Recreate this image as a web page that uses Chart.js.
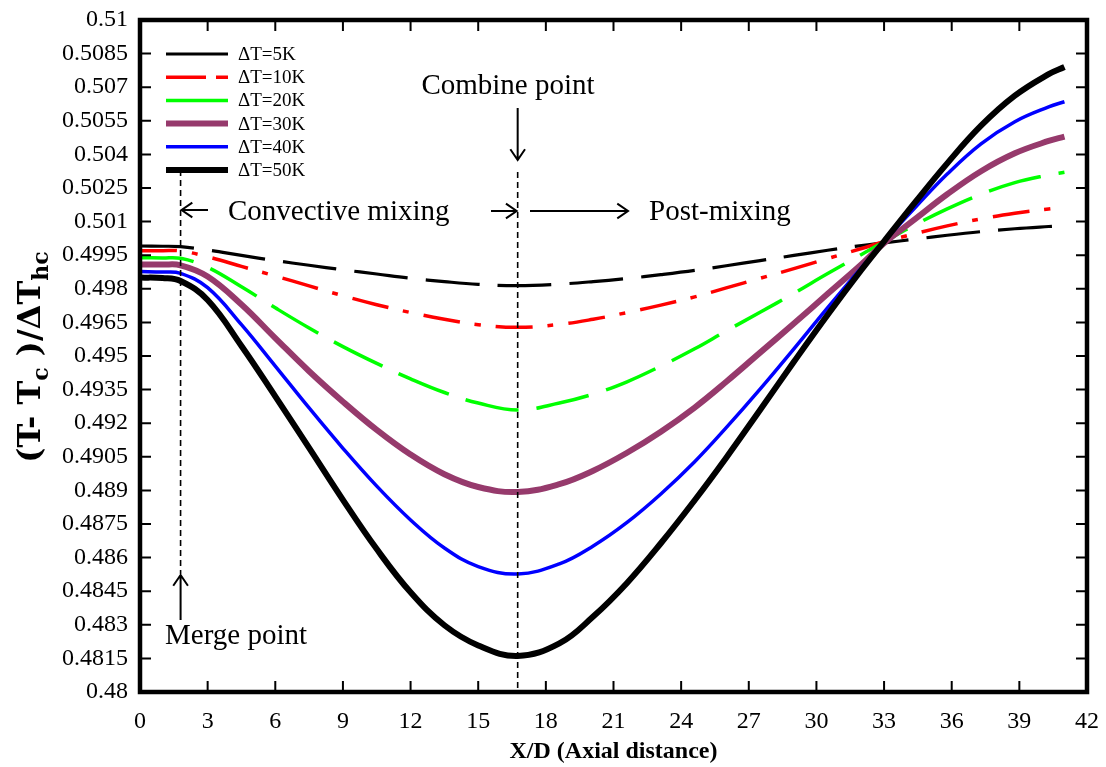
<!DOCTYPE html>
<html>
<head>
<meta charset="utf-8">
<script src="https://cdn.jsdelivr.net/npm/chart.js@4.4.1/dist/chart.umd.min.js"></script>
<style>
  html, body { margin: 0; padding: 0; background: #fff; }
  #wrap { width: 1106px; height: 767px; }
</style>
</head>
<body>
<div id="wrap"><canvas id="c" width="1106" height="767"></canvas></div>
<script>
// Axial positions (X/D) shared by every series
const xPos = [0, 1, 1.8, 3, 4.5, 6, 7.5, 9, 10.5, 12, 13.5, 15, 16.75,
  18.6, 20.1, 21.6, 23.1, 24.6, 26, 27.5, 29, 30.5, 32, 33,
  34.4, 35.8, 37.3, 38.8, 40.3, 41];

// Normalised temperature (T - Tc)/ΔThc for each inlet temperature difference
const dT5 = [0.49991, 0.49990, 0.49988, 0.49973, 0.49949, 0.49926, 0.49905, 0.49885, 0.49866, 0.49847, 0.49832, 0.49820, 0.49814,
  0.49821, 0.49832, 0.49846, 0.49863, 0.49882, 0.49903, 0.49926, 0.49949, 0.49972, 0.49993, 0.50005,
  0.50022, 0.50039, 0.50055, 0.50068, 0.50078, 0.50082];
const dT10 = [0.49970, 0.49970, 0.49969, 0.49943, 0.49900, 0.49857, 0.49813, 0.49769, 0.49729, 0.49694, 0.49664, 0.49640, 0.49628,
  0.49641, 0.49664, 0.49694, 0.49727, 0.49764, 0.49804, 0.49847, 0.49890, 0.49935, 0.49980, 0.50010,
  0.50047, 0.50081, 0.50112, 0.50137, 0.50156, 0.50164];
const dT20 = [0.49939, 0.49938, 0.49936, 0.49896, 0.49809, 0.49715, 0.49625, 0.49542, 0.49467, 0.49398, 0.49337, 0.49290, 0.49259,
  0.49290, 0.49330, 0.49385, 0.49455, 0.49532, 0.49612, 0.49695, 0.49780, 0.49868, 0.49953, 0.50010,
  0.50087, 0.50157, 0.50222, 0.50274, 0.50308, 0.50320];
const dT30 = [0.49909, 0.49908, 0.49905, 0.49855, 0.49730, 0.49580, 0.49432, 0.49296, 0.49170, 0.49060, 0.48972, 0.48915, 0.48893,
  0.48928, 0.48988, 0.49068, 0.49162, 0.49270, 0.49385, 0.49515, 0.49645, 0.49778, 0.49910, 0.50004,
  0.50113, 0.50222, 0.50325, 0.50405, 0.50460, 0.50479];
const dT40 = [0.49877, 0.49875, 0.49869, 0.49805, 0.49640, 0.49455, 0.49268, 0.49088, 0.48919, 0.48768, 0.48643, 0.48560, 0.48527,
  0.48572, 0.48652, 0.48757, 0.48884, 0.49028, 0.49180, 0.49352, 0.49532, 0.49716, 0.49895, 0.50012,
  0.50165, 0.50312, 0.50447, 0.50546, 0.50612, 0.50635];
const dT50 = [0.49850, 0.49848, 0.49835, 0.49750, 0.49545, 0.49320, 0.49090, 0.48858, 0.48638, 0.48445, 0.48298, 0.48208, 0.48161,
  0.48217, 0.48337, 0.48487, 0.48664, 0.48856, 0.49046, 0.49259, 0.49474, 0.49684, 0.49885, 0.50012,
  0.50189, 0.50360, 0.50528, 0.50662, 0.50758, 0.50790];

const seriesLabels = ['ΔT=5K', 'ΔT=10K', 'ΔT=20K', 'ΔT=30K', 'ΔT=40K', 'ΔT=50K'];

const xTicks = [0, 3, 6, 9, 12, 15, 18, 21, 24, 27, 30, 33, 36, 39, 42];
const yTicks = [0.48, 0.4815, 0.483, 0.4845, 0.486, 0.4875, 0.489, 0.4905, 0.492, 0.4935, 0.495,
  0.4965, 0.498, 0.4995, 0.501, 0.5025, 0.504, 0.5055, 0.507, 0.5085, 0.51];

// Marker positions along the pipe
const mergeX = 1.8;
const combineX = 16.75;

const allSeries = [dT5, dT10, dT20, dT30, dT40, dT50];
const styles = [
  { color: '#000000', width: 3.2, dash: [54, 18], legendDash: [] },
  { color: '#ff0000', width: 3.5, dash: [37, 15, 6, 15], legendDash: [40, 10] },
  { color: '#00ff00', width: 3.5, dash: [54, 18], legendDash: [] },
  { color: '#963a6c', width: 6, dash: [], legendDash: [] },
  { color: '#0000ff', width: 3.5, dash: [], legendDash: [] },
  { color: '#000000', width: 6, dash: [], legendDash: [] }
];

const datasets = allSeries.map((vals, i) => ({
  label: seriesLabels[i],
  data: vals.map((v, k) => ({ x: xPos[k], y: v })),
  borderColor: styles[i].color,
  backgroundColor: styles[i].color,
  borderWidth: styles[i].width,
  borderDash: styles[i].dash,
  borderCapStyle: 'butt',
  pointRadius: 0,
  fill: false,
  tension: 0.4,
  order: allSeries.length - i
}));

function arrow(ctx, x1, y1, x2, y2) {
  const ang = Math.atan2(y2 - y1, x2 - x1);
  const hl = 13, hw = 0.6;
  ctx.beginPath();
  ctx.moveTo(x1, y1); ctx.lineTo(x2, y2);
  ctx.moveTo(x2 - hl * Math.cos(ang - hw), y2 - hl * Math.sin(ang - hw));
  ctx.lineTo(x2, y2);
  ctx.lineTo(x2 - hl * Math.cos(ang + hw), y2 - hl * Math.sin(ang + hw));
  ctx.stroke();
}

const decor = {
  id: 'decor',
  afterDatasetsDraw(chart) {
    const { ctx, chartArea: a, scales: { x } } = chart;
    const mx = x.getPixelForValue(mergeX);
    const cx = x.getPixelForValue(combineX);
    ctx.save();
    ctx.strokeStyle = '#000';
    ctx.fillStyle = '#000';

    // dashed marker lines
    ctx.lineWidth = 1.6;
    ctx.setLineDash([6, 4]);
    ctx.beginPath();
    ctx.moveTo(mx, 170); ctx.lineTo(mx, 574);
    ctx.moveTo(cx, 172); ctx.lineTo(cx, a.bottom);
    ctx.stroke();
    ctx.setLineDash([]);

    // arrows
    ctx.lineWidth = 2;
    arrow(ctx, cx, 108, cx, 160);
    arrow(ctx, mx, 620, mx, 575);
    arrow(ctx, 208, 210, mx + 1, 210);
    arrow(ctx, 491, 211, cx - 1, 211);
    arrow(ctx, 530, 211, 628, 211);

    // annotation text
    ctx.font = '29px "Liberation Serif", serif';
    ctx.textBaseline = 'middle';
    ctx.textAlign = 'center';
    ctx.fillText('Combine point', 508, 86);
    ctx.textAlign = 'left';
    ctx.fillText('Convective mixing', 228, 212);
    ctx.fillText('Post-mixing', 649, 212);
    ctx.fillText('Merge point', 165, 636);

    // legend
    ctx.font = '19px "Liberation Serif", serif';
    chart.data.datasets.forEach((ds, i) => {
      const yy = 54 + i * 23.2;
      ctx.save();
      ctx.strokeStyle = ds.borderColor;
      ctx.lineWidth = ds.borderWidth;
      ctx.setLineDash(styles[i].legendDash);
      ctx.beginPath();
      ctx.moveTo(166, yy); ctx.lineTo(228, yy);
      ctx.stroke();
      ctx.restore();
      ctx.fillStyle = '#000';
      ctx.fillText(ds.label, 238, yy + 1);
    });
    ctx.restore();
  },
  afterDraw(chart) {
    const { ctx, chartArea: a, scales: { x, y } } = chart;
    ctx.save();
    ctx.strokeStyle = '#000';
    // inward tick marks on all four sides
    ctx.lineWidth = 2;
    ctx.beginPath();
    x.ticks.forEach(t => {
      const px = x.getPixelForValue(t.value);
      ctx.moveTo(px, a.bottom); ctx.lineTo(px, a.bottom - 11);
      ctx.moveTo(px, a.top); ctx.lineTo(px, a.top + 11);
    });
    y.ticks.forEach(t => {
      const py = y.getPixelForValue(t.value);
      ctx.moveTo(a.left, py); ctx.lineTo(a.left + 11, py);
      ctx.moveTo(a.right, py); ctx.lineTo(a.right - 11, py);
    });
    ctx.stroke();
    // frame
    ctx.lineWidth = 4.5;
    ctx.strokeRect(a.left, a.top, a.right - a.left, a.bottom - a.top);

    // axis titles
    ctx.fillStyle = '#000';
    ctx.textBaseline = 'alphabetic';
    ctx.textAlign = 'center';
    ctx.font = 'bold 24px "Liberation Serif", serif';
    ctx.fillText('X/D (Axial distance)', (a.left + a.right) / 2, 758);

    const parts = [
      { t: '(T- T', f: 'bold 32px "DejaVu Serif", serif', dy: 0 },
      { t: 'c', f: 'bold 22px "DejaVu Serif", serif', dy: 8 },
      { t: ' )/ΔT', f: 'bold 32px "DejaVu Serif", serif', dy: 0 },
      { t: 'hc', f: 'bold 22px "DejaVu Serif", serif', dy: 8 }
    ];
    let total = 0;
    parts.forEach(p => { ctx.font = p.f; p.w = ctx.measureText(p.t).width; total += p.w; });
    ctx.translate(40, 357);
    ctx.rotate(-Math.PI / 2);
    ctx.textAlign = 'left';
    let cur = -total / 2;
    parts.forEach(p => {
      ctx.font = p.f;
      ctx.fillText(p.t, cur, p.dy);
      cur += p.w;
    });
    ctx.restore();
  }
};

new Chart(document.getElementById('c'), {
  type: 'line',
  data: { datasets },
  options: {
    responsive: false,
    animation: false,
    devicePixelRatio: 1,
    layout: { padding: { top: 20, right: 19, left: 0, bottom: 0 } },
    plugins: { legend: { display: false }, tooltip: { enabled: false } },
    scales: {
      x: {
        type: 'linear', min: 0, max: 42,
        afterBuildTicks: s => { s.ticks = xTicks.map(v => ({ value: v })); },
        afterFit: s => { s.height = 75; },
        grid: { display: false },
        border: { display: false },
        ticks: {
          color: '#000', padding: 7, maxRotation: 0, autoSkip: false,
          font: { family: '"Liberation Serif", serif', size: 24 },
          callback: v => String(v)
        }
      },
      y: {
        type: 'linear', min: 0.48, max: 0.51,
        afterBuildTicks: s => { s.ticks = yTicks.map(v => ({ value: v })); },
        afterFit: s => { s.width = 140; },
        grid: { display: false },
        border: { display: false },
        ticks: {
          color: '#000', padding: 4, autoSkip: false,
          font: { family: '"Liberation Serif", serif', size: 24 },
          callback: v => String(v)
        }
      }
    }
  },
  plugins: [decor]
});
</script>
</body>
</html>
